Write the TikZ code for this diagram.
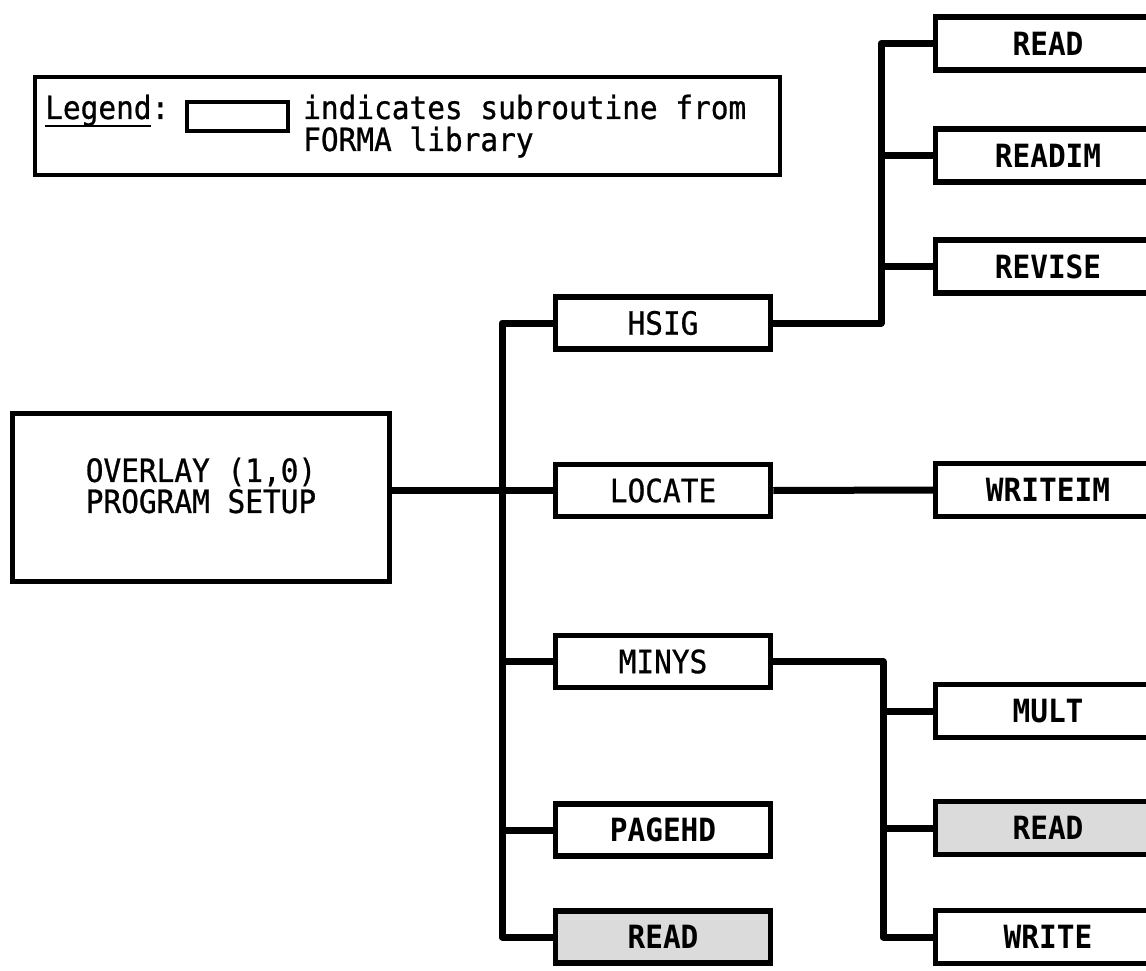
\documentclass[tikz,border=0pt]{standalone}
\usepackage{fontspec}
\setmonofont[FakeStretch=0.92, UprightFeatures={FakeBold=0.8}]{DejaVu Sans Mono}
\begin{document}
\begin{tikzpicture}[x=1pt,y=-1pt,
  txt/.style={font={\ttfamily\fontsize{32}{31}\selectfont}},
  txtb/.style={font={\ttfamily\bfseries\fontsize{32}{31}\selectfont}},
  box/.style={draw, line width=5.5pt, inner sep=0pt, txt},
  mid/.style={box, minimum width=215pt, minimum height=52pt},
  rgt/.style={box, txtb, minimum width=225pt, minimum height=53pt},
  shaded/.style={fill=black!14},
  wire/.style={line width=7pt, line join=round, line cap=butt}]
\useasboundingbox (0,0) rectangle (1146,971);
\clip (0,0) rectangle (1146,971);

% legend
\node[draw, line width=4pt, minimum width=745pt, minimum height=98pt, inner sep=0pt] (legend) at (407.5,126) {};
\node[draw, line width=4.5pt, minimum width=101pt, minimum height=29pt, inner sep=0pt] (lbox) at (237.5,116.5) {};
\node[txt, anchor=base west, inner sep=0pt] (lword) at (45,119) {Legend:};
\draw[line width=2.5pt] ([yshift=-7pt]lword.base west) -- ++(106,0);
\node[txt, anchor=base west, inner sep=0pt] (ldesc1) at (303,119) {indicates subroutine from};
\node[txt, anchor=base west, inner sep=0pt] (ldesc2) at (303,151) {FORMA library};

% main box
\node[box, minimum width=377pt, minimum height=168pt,
  label={[txt, align=center, yshift=12pt]center:OVERLAY (1,0)\\PROGRAM SETUP}] (main) at (201,497.5) {};

% middle column
\node[mid] (hsig) at (663,323) {HSIG};
\node[mid] (locate) at (663,490.5) {LOCATE};
\node[mid] (minys) at (663,661.5) {MINYS};
\node[mid, txtb] (pagehd) at (663,830) {PAGEHD};
\node[mid, txtb, shaded] (readc) at (663,937) {READ};

% right column
\node[rgt] (reada) at (1048,43.5) {READ};
\node[rgt] (readim) at (1048,155.5) {READIM};
\node[rgt] (revise) at (1048,266.5) {REVISE};
\node[rgt] (writeim) at (1048,490) {WRITEIM};
\node[rgt] (mult) at (1048,711) {MULT};
\node[rgt, shaded] (readb) at (1048,828) {READ};
\node[rgt] (write) at (1048,937) {WRITE};

% connectors
\coordinate (trunk) at (502,0);
\coordinate (hv) at (881,0);
\coordinate (mv) at (883,0);

\draw[wire] (main.east |- locate.west) -- (locate.west);
\draw[wire] (hsig.west) -| (trunk |- readc.west) -- (readc.west);
\draw[wire] (trunk |- minys.west) -- (minys.west);
\draw[wire] (trunk |- pagehd.west) -- (pagehd.west);

\draw[wire] (hsig.east) -| (hv |- reada.west) -- (reada.west);
\draw[wire] (hv |- readim.west) -- (readim.west);
\draw[wire] (hv |- revise.west) -- (revise.west);

\draw[wire] (locate.east) -- (writeim.west);

\draw[wire] (minys.east) -| (mv |- write.west) -- (write.west);
\draw[wire] (mv |- mult.west) -- (mult.west);
\draw[wire] (mv |- readb.west) -- (readb.west);
\end{tikzpicture}
\end{document}
